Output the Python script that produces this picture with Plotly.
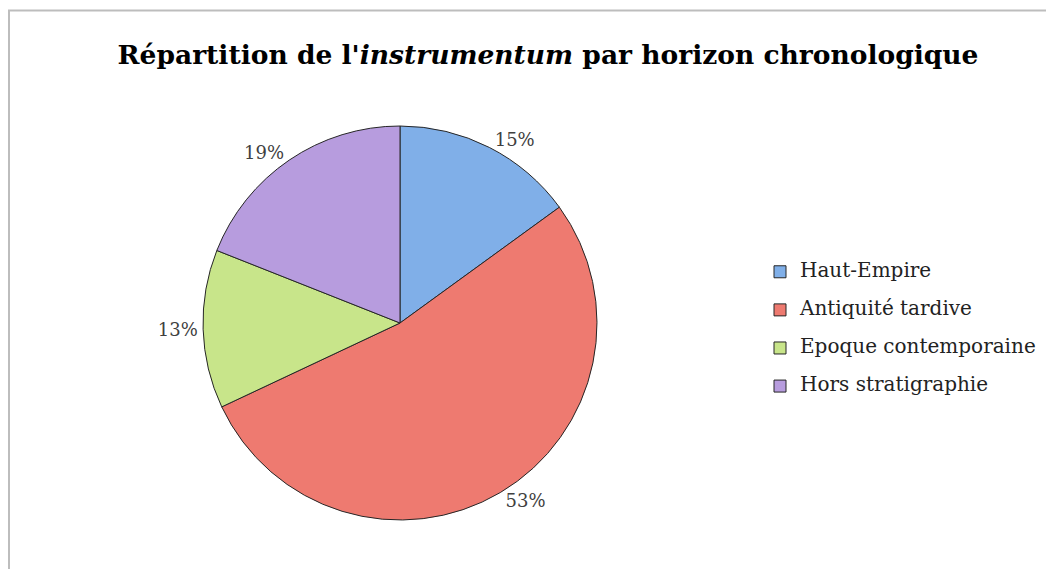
import plotly.graph_objects as go

categories = ["Haut-Empire", "Antiquité tardive", "Epoque contemporaine", "Hors stratigraphie"]
values = [15, 53, 13, 19]
colors = ["#80AFE8", "#EE7A70", "#C8E58A", "#B79CDE"]

# page has an 8px body margin; figure sized to fit the visible window
W, H = 1046, 561
cx, cy, r = 392, 315, 197

legend_labels = [f"<span style='font-size:20px'>{c}</span><br> " for c in categories]

fig = go.Figure(go.Pie(
    labels=legend_labels,
    values=values,
    sort=False,
    direction="clockwise",
    rotation=0,
    marker=dict(colors=colors, line=dict(color="#262626", width=1)),
    textinfo="percent",
    textposition="outside",
    texttemplate="%{percent:.0%}",
    textfont=dict(family="DejaVu Serif", size=18, color="#404040"),
    hoverinfo="label+percent",
    domain=dict(x=[(cx - r) / W, (cx + r) / W], y=[(H - cy - r) / H, (H - cy + r) / H]),
))

fig.update_layout(
    width=W, height=H,
    margin=dict(l=0, r=0, t=0, b=0),
    paper_bgcolor="white",
    plot_bgcolor="white",
    font=dict(family="DejaVu Serif", color="#222222"),
    title=dict(
        text="Répartition de l'<i>instrumentum</i> par horizon chronologique",
        font=dict(family="DejaVu Serif", size=26.5, color="black", weight="bold"),
        x=540 / W, xanchor="center", y=1 - 47 / H, yanchor="middle",
    ),
    legend=dict(
        x=752 / W, xanchor="left",
        y=1 - 330 / H, yanchor="middle",
        font=dict(family="DejaVu Serif", size=13.5, color="#222222"),
        valign="top",
        bgcolor="rgba(0,0,0,0)",
    ),
    shapes=[dict(
        type="rect", xref="paper", yref="paper",
        x0=1 / W, x1=1.02, y0=-0.02, y1=1 - 2.5 / H,
        line=dict(color="#BDBDBD", width=2), fillcolor="rgba(0,0,0,0)", layer="below",
    )],
)

fig.write_html("out.html")
